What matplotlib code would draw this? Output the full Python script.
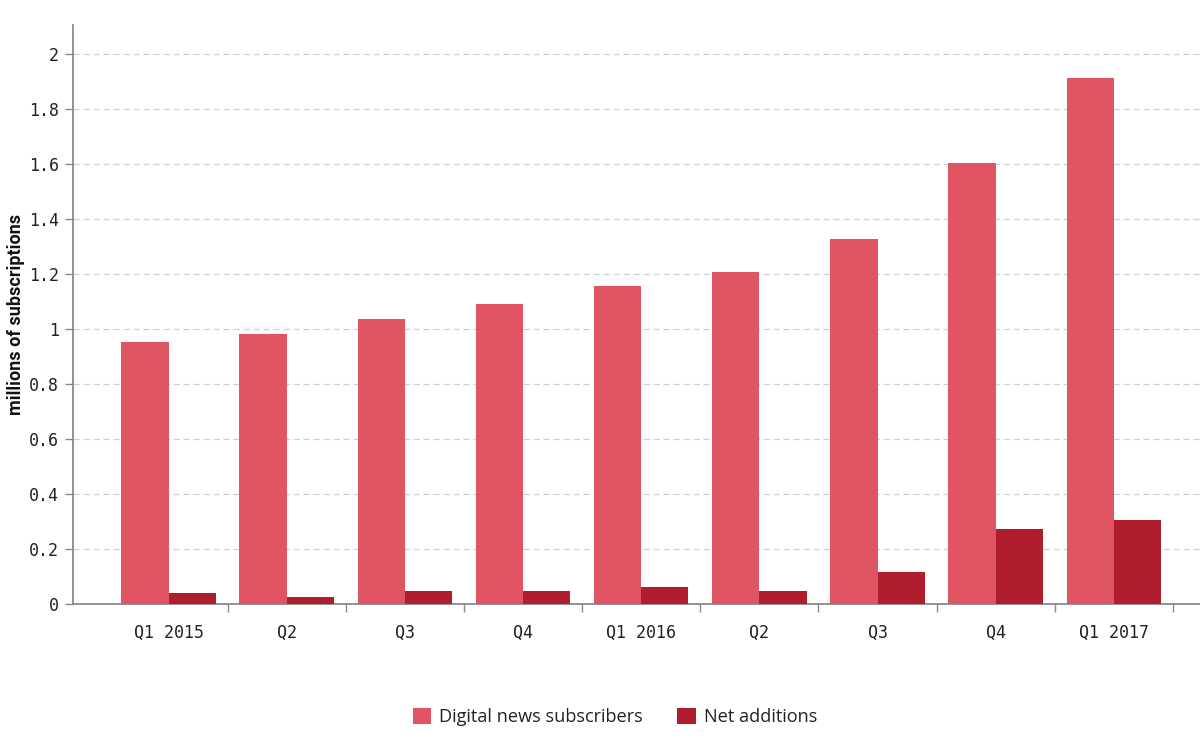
import matplotlib
matplotlib.use("Agg")
import matplotlib.pyplot as plt
import numpy as np
from matplotlib.patches import Patch

categories = ["Q1 2015", "Q2", "Q3", "Q4", "Q1 2016", "Q2", "Q3", "Q4", "Q1 2017"]
digital_subscribers = [0.953, 0.982, 1.036, 1.091, 1.157, 1.208, 1.328, 1.603, 1.912]
net_additions = [0.040, 0.026, 0.047, 0.047, 0.062, 0.047, 0.117, 0.272, 0.305]
yticks = [0, 0.2, 0.4, 0.6, 0.8, 1, 1.2, 1.4, 1.6, 1.8, 2]
ytick_labels = ["0", "0.2", "0.4", "0.6", "0.8", "1", "1.2", "1.4", "1.6", "1.8", "2"]

c_digital = "#E05563"
c_net = "#B01E2E"
axis_grey = "#8a8a8a"

fig = plt.figure(figsize=(12, 7.54), dpi=100)
ax = fig.add_axes([73/1200, 1 - 604/754, 1 - 73/1200, (604 - 25)/754])

x = np.arange(len(categories))
w = 0.4
ax.bar(x - w/2, digital_subscribers, width=w, color=c_digital, zorder=3)
ax.bar(x + w/2, net_additions, width=w, color=c_net, zorder=3)

ax.set_xlim(-0.809, 8.729)
ax.set_ylim(0, 2.105)

for s in ["top", "right"]:
    ax.spines[s].set_visible(False)
for s in ["left", "bottom"]:
    ax.spines[s].set_color(axis_grey)
    ax.spines[s].set_linewidth(1.3)

mono = "DejaVu Sans Mono"
ax.set_yticks(yticks)
ax.set_yticklabels(ytick_labels, fontfamily=mono, fontsize=12, color="#222222")
ax.tick_params(axis="y", length=6, width=1, color=axis_grey, pad=4)

# category labels at centers, ticks at band boundaries
ax.set_xticks(x + 0.5)
ax.set_xticklabels([])
ax.tick_params(axis="x", length=6, width=1, color=axis_grey)
ax.set_xticks(x, minor=True)
ax.set_xticklabels(categories, minor=True, fontfamily=mono, fontsize=12, color="#222222")
ax.tick_params(axis="x", which="minor", length=0, pad=14)

ax.yaxis.grid(True, linestyle=(0, (5, 3)), color="#d0d0d0", linewidth=0.9, zorder=0)
ax.set_axisbelow(True)

ax.set_ylabel("millions of subscriptions", fontfamily="Roboto", fontweight="bold",
              fontsize=13, color="#111111", labelpad=3)

handles = [Patch(facecolor=c_digital, label="Digital news subscribers"),
           Patch(facecolor=c_net, label="Net additions")]
leg = fig.legend(handles=handles, loc="center", bbox_to_anchor=(615/1200, 1 - 717/754),
                 ncol=2, frameon=False, prop={"family": "Open Sans", "size": 13.1},
                 handlelength=1.0, handleheight=1.0, handletextpad=0.45, columnspacing=1.9)
for t in leg.get_texts():
    t.set_color("#222222")

fig.savefig("out.png", dpi=100)
